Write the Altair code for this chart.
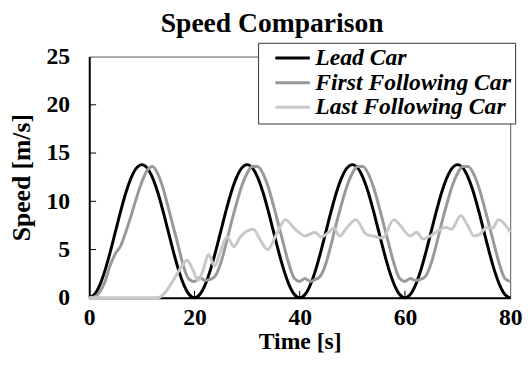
import altair as alt
import pandas as pd

series_names = ["Lead Car", "First Following Car", "Last Following Car"]
series_colors = ["#000000", "#999999", "#c8c8c8"]

time_lead = list(range(0, 81))
speed_lead = [
    0, 0.34, 1.32, 2.84, 4.77, 6.9, 9.03, 10.96, 12.48, 13.46, 13.8, 13.46, 12.48, 10.96, 9.03, 6.9, 4.77, 2.84, 1.32, 0.34,
    0, 0.34, 1.32, 2.84, 4.77, 6.9, 9.03, 10.96, 12.48, 13.46, 13.8, 13.46, 12.48, 10.96, 9.03, 6.9, 4.77, 2.84, 1.32, 0.34,
    0, 0.34, 1.32, 2.84, 4.77, 6.9, 9.03, 10.96, 12.48, 13.46, 13.8, 13.46, 12.48, 10.96, 9.03, 6.9, 4.77, 2.84, 1.32, 0.34,
    0, 0.34, 1.32, 2.84, 4.77, 6.9, 9.03, 10.96, 12.48, 13.46, 13.8, 13.46, 12.48, 10.96, 9.03, 6.9, 4.77, 2.84, 1.32, 0.34,
    0,
]

time_first = list(range(0, 81))
speed_first = [
    0, 0.1, 0.6, 1.7, 3.4, 4.6, 5.4, 6.9, 8.6, 10.4, 12.0, 13.2, 13.6, 12.9, 11.4, 9.4, 7.3, 5.2, 3.1, 1.9,
    1.7, 2.1, 1.8, 1.9, 2.3, 3.6, 5.6, 7.8, 9.8, 11.6, 12.9, 13.6, 13.6, 12.9, 11.5, 9.6, 7.5, 5.4, 3.4, 2.0,
    1.7, 2.0, 1.7, 1.9, 2.3, 3.6, 5.6, 7.8, 9.8, 11.6, 12.9, 13.6, 13.6, 12.9, 11.5, 9.6, 7.5, 5.4, 3.4, 2.0,
    1.7, 2.0, 1.8, 1.9, 2.3, 3.6, 5.6, 7.8, 9.8, 11.6, 12.9, 13.6, 13.6, 12.9, 11.5, 9.6, 7.5, 5.4, 3.4, 2.0,
    1.7,
]

time_last = [0, 13, 13.5, 14.5, 15.5, 16.5, 17.5, 18.6, 19.6, 20.7,
             21.6, 22.7, 23.8, 25.0, 26.2, 27.5, 28.7, 29.9, 31.2, 32.5,
             33.9, 35.6, 37.3, 38.8, 40.0, 41.0, 42.9, 44.1, 45.3, 46.5,
             47.6, 49.0, 50.7, 52.6, 54.0, 55.7, 57.9, 59.1, 61.0, 62.2,
             63.4, 64.8, 65.9, 67.8, 68.8, 70.6, 72.0, 73.1, 74.3, 75.5,
             76.6, 77.8, 79.0, 80.0]
speed_last = [0, 0, 0.1, 0.6, 1.4, 2.3, 3.2, 3.9, 3.0, 1.8,
              2.8, 4.5, 3.3, 4.9, 6.3, 5.3, 6.3, 6.9, 7.1, 6.0,
              5.0, 6.6, 8.1, 7.3, 6.7, 6.4, 6.8, 6.3, 6.7, 7.2,
              6.4, 7.3, 8.1, 6.6, 6.4, 6.2, 8.1, 7.5, 6.4, 6.8,
              6.1, 6.4, 6.8, 7.3, 7.1, 8.5, 7.4, 6.4, 6.6, 7.3,
              7.2, 8.1, 7.6, 6.8]

x_tick_labels = [0, 20, 40, 60, 80]
y_tick_labels = [0, 5, 10, 15, 20, 25]
x_inner_ticks = [20, 40, 60]
y_inner_ticks = [5, 10, 15, 20]

frames = []
for k, (tt, vv) in enumerate([(time_lead, speed_lead), (time_first, speed_first), (time_last, speed_last)]):
    frames.append(pd.DataFrame({"t": tt, "v": vv, "car": series_names[k], "k": k}))
df = pd.concat(frames, ignore_index=True)

FONT = "Liberation Serif, Times New Roman, Times, serif"
W, H = 427.5, 245

x_axis = alt.Axis(values=x_tick_labels, title="Time [s]", grid=False, tickSize=0,
                  labelFont=FONT, labelFontSize=24, labelFontWeight="bold", labelColor="black",
                  titleFont=FONT, titleFontSize=24, titleFontWeight="bold", titleColor="black",
                  labelPadding=8, titlePadding=0, domainColor="black", domainWidth=2, labelFlush=False)
y_axis = alt.Axis(values=y_tick_labels, title="Speed [m/s]", grid=False, tickSize=0,
                  labelFont=FONT, labelFontSize=24, labelFontWeight="bold", labelColor="black",
                  titleFont=FONT, titleFontSize=26, titleFontWeight="bold", titleColor="black",
                  labelPadding=20, titlePadding=12, domainColor="black", domainWidth=2)

xs = alt.Scale(domain=[0, 80], nice=False)
ys = alt.Scale(domain=[0, 25], nice=False)

lines = alt.Chart(df).mark_line(strokeWidth=3, interpolate="monotone").encode(
    x=alt.X("t:Q", scale=xs, axis=x_axis),
    y=alt.Y("v:Q", scale=ys, axis=y_axis),
    color=alt.Color("car:N", sort=series_names,
                    scale=alt.Scale(domain=series_names, range=series_colors),
                    legend=alt.Legend(title=None, orient="none", legendX=171.5, legendY=-14,
                                      symbolType="stroke", symbolSize=1225, symbolStrokeWidth=3,
                                      labelFont=FONT, labelFontSize=24, labelFontWeight="bold",
                                      labelFontStyle="italic", labelColor="black", labelLimit=500,
                                      fillColor="white", strokeColor="#333333",
                                      padding=4, rowPadding=0, clipHeight=23,
                                      symbolOffset=12, labelOffset=4)),
    order=alt.Order("k:Q"),
)

ytick_df = pd.DataFrame({"v": y_inner_ticks})
xtick_df = pd.DataFrame({"t": x_inner_ticks})

yticks = alt.Chart(ytick_df).mark_rule(color="black", strokeWidth=1).encode(
    y=alt.Y("v:Q", scale=ys, axis=y_axis), x=alt.value(0), x2=alt.value(7))
xticks = alt.Chart(xtick_df).mark_rule(color="black", strokeWidth=1).encode(
    x=alt.X("t:Q", scale=xs, axis=x_axis), y=alt.value(H), y2=alt.value(H - 7))

chart = alt.layer(lines, yticks, xticks).properties(
    width=W, height=H,
    title=alt.TitleParams("Speed Comparison", font=FONT, fontSize=28, fontWeight="bold",
                          color="black", anchor="middle", dx=-28, offset=4),
    autosize=alt.AutoSizeParams(type="none"),
    padding={"left": 82.5, "top": 46.5, "right": 13, "bottom": 70},
).configure_view(stroke="#555555", strokeWidth=1)

chart.save("out.html", embed_options={"renderer": "svg", "actions": False})
